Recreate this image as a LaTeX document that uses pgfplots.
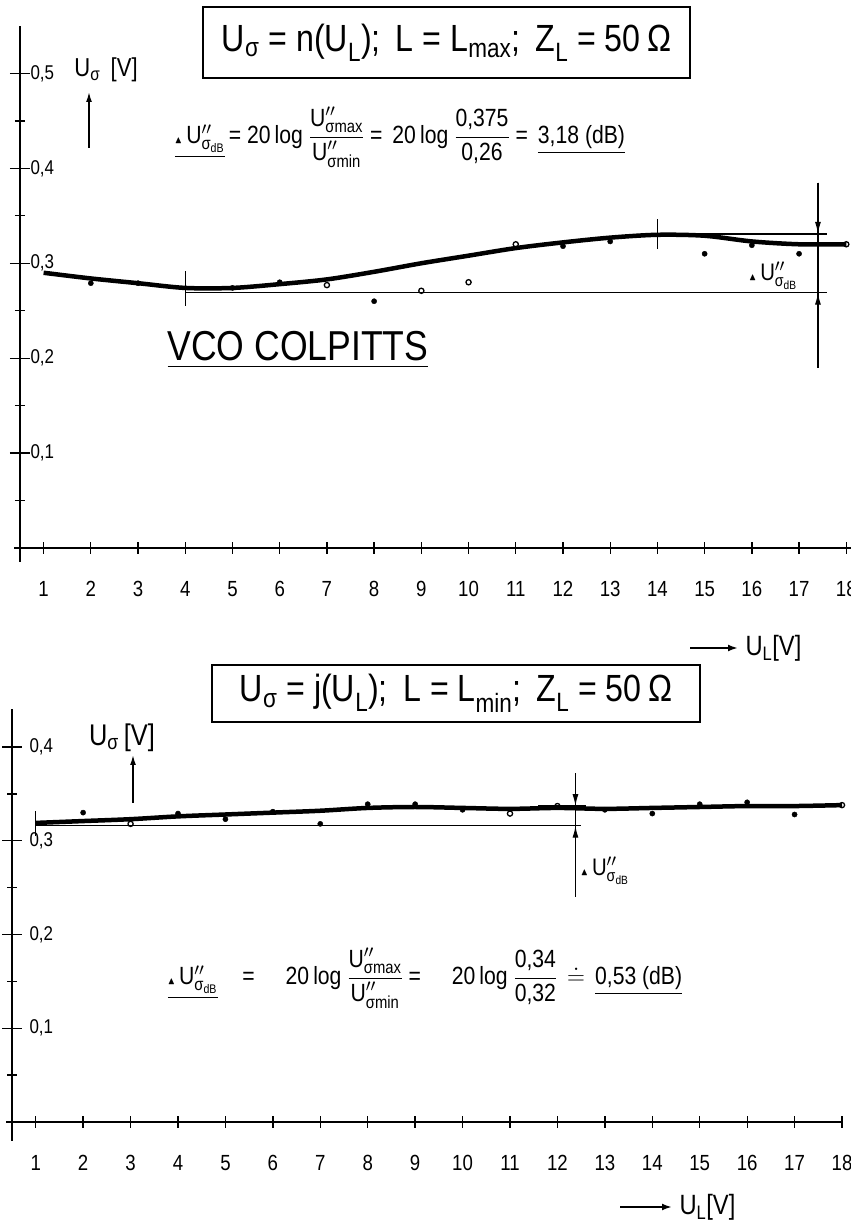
\documentclass[border=0pt]{standalone}
\usepackage{pgfplots}
\pgfplotsset{compat=1.18}
\usepackage{amsmath,amssymb}
\usetikzlibrary{arrows.meta}
\usepackage{fontspec}
\setmainfont{Liberation Sans}[FakeStretch=0.85]
\newcommand{\fs}[1]{\fontsize{#1}{#1}\selectfont}
\newcommand{\dU}{{\fs{10}$\blacktriangle$}\,U}

\pgfplotsset{
  ucurve/.style={
    scale only axis, clip=false, anchor=south west,
    axis x line*=bottom, axis y line*=left,
    axis line style={-, line width=1.6bp},
    xmin=0.5, ymin=0,
    tick align=center,
    major tick length=20bp, minor tick length=10bp,
    every tick/.style={black, line width=1.3bp},
    xtick=\empty,
    extra x ticks={1,...,18},
    extra x tick style={major tick length=12bp},
    xticklabel style={font=\fs{22}, yshift=-24bp},
    yticklabel style={anchor=west, font=\fs{20}},
    /pgf/number format/.cd, fixed, precision=1, use comma, assume math mode=true,
  },
  curve/.style={line width=4.5bp, smooth, tension=0.5},
  dots/.style={only marks, mark=*, mark size=2.6bp},
  rings/.style={only marks, mark=o, mark size=2.6bp, mark options={line width=1.3bp}},
}
\tikzset{thinline/.style={line width=1.5bp},
  arr/.style={line width=1.3bp, -{Latex[length=12bp,width=6bp]}}}

\begin{document}
\begin{tikzpicture}
\useasboundingbox (0,0) rectangle (851bp,1224bp);

% upper chart: L = Lmax
\begin{axis}[ucurve, at={(20bp,676bp)}, width=831bp, height=522bp,
  xmax=18.1, ymax=0.55,
  yticklabel style={xshift=17bp},
  ytick={0.1,0.2,0.3,0.4,0.5}, minor ytick={0.05,0.15,0.25,0.35,0.45}]
\addplot[curve] coordinates {
  (1,0.290) (2,0.284) (3,0.279) (4,0.274) (5,0.274) (6,0.278) (7,0.283)
  (8,0.291) (9,0.300) (10,0.308) (11,0.316) (12,0.322) (13,0.327)
  (14,0.330) (15,0.329) (16,0.323) (17,0.320) (18,0.320)};
\addplot[dots] coordinates {
  (2,0.279) (3,0.279) (5,0.274) (6,0.280) (8,0.260) (12,0.318)
  (13,0.323) (15,0.310) (16,0.319) (17,0.310)};
\addplot[rings] coordinates {
  (7,0.277) (9,0.271) (10,0.280) (11,0.320) (18,0.320)};
\draw[thinline] (axis cs:4,0.269) -- (axis cs:17.6,0.269);
\draw[thinline] (axis cs:14,0.331) -- (axis cs:17.6,0.331);
\draw[thinline] (axis cs:4,0.255) -- (axis cs:4,0.292);
\draw[thinline] (axis cs:14,0.315) -- (axis cs:14,0.347);
\draw[line width=1.3bp] (axis cs:17.4,0.385) -- (axis cs:17.4,0.19);
\draw[arr] (axis cs:17.4,0.385) -- (axis cs:17.4,0.331);
\draw[arr] (axis cs:17.4,0.19) -- (axis cs:17.4,0.269);
\draw[line width=1.6bp] (axis cs:0.38,0) -- (axis cs:0.5,0) -- (axis cs:0.5,-0.015);
\node[font=\fs{24}] at (axis cs:16.45,0.287) {\dU$''_{\text{σ}_{\text{dB}}}$};
\end{axis}

% lower chart: L = Lmin
\begin{axis}[ucurve, at={(12bp,102bp)}, width=830bp, height=412.5bp,
  xmax=18, ymax=0.44,
  yticklabel style={xshift=24bp},
  ytick={0.1,0.2,0.3,0.4}, minor ytick={0.05,0.15,0.25,0.35}]
\addplot[curve] coordinates {
  (1,0.319) (2,0.321) (3,0.323) (4,0.326) (5,0.328) (6,0.330) (7,0.332)
  (8,0.335) (9,0.336) (10,0.335) (11,0.334) (12,0.335) (13,0.334)
  (14,0.335) (15,0.336) (16,0.337) (17,0.337) (18,0.338)};
\addplot[dots] coordinates {
  (2,0.330) (4,0.329) (5,0.323) (6,0.331) (7,0.318) (8,0.339) (9,0.339)
  (10,0.333) (13,0.333) (14,0.329) (15,0.339) (16,0.341) (17,0.328)};
\addplot[rings] coordinates {
  (3,0.318) (11,0.329) (12,0.337) (18,0.338)};
\draw[thinline] (axis cs:1,0.316) -- (axis cs:12.5,0.316);
\draw[thinline] (axis cs:11.6,0.337) -- (axis cs:12.6,0.337);
\draw[thinline] (axis cs:1,0.305) -- (axis cs:1,0.332);
\draw[line width=1.3bp] (axis cs:12.38,0.372) -- (axis cs:12.38,0.24);
\draw[arr] (axis cs:12.38,0.372) -- (axis cs:12.38,0.337);
\draw[arr] (axis cs:12.38,0.245) -- (axis cs:12.38,0.316);
\draw[line width=1.6bp] (axis cs:0.38,0) -- (axis cs:0.5,0) -- (axis cs:0.5,-0.02);
\node[font=\fs{24}, anchor=west] at (axis cs:12.42,0.268) {\dU$''_{\text{σ}_{\text{dB}}}$};
\end{axis}

% texts in picture coordinates (y measured from the top)
\begin{scope}[x=1bp, y=1bp, shift={(0,1224)}, yscale=-1]
\node[draw, line width=1.6bp, minimum width=487bp, minimum height=71bp, font=\fs{38}] at (446.5,42.5)
  {U$_{\text{σ}}$ = n(U$_{\text{L}}$); \,L = L$_{\text{max}}$; \,Z$_{\text{L}}$ = 50\,Ω};
\node[font=\fs{26}] at (106,70) {U$_{\text{σ}}$\, [V]};
\draw[line width=1.5bp, -{Latex[length=10bp,width=6bp]}] (89,148) -- (89,92);
\node[font=\fs{25}] at (400,137) {\underline{\dU$''_{\text{σ}_{\text{dB}}}$}\,= 20\,log
  $\dfrac{\text{U}''_{\text{σmax}}}{\text{U}''_{\text{σmin}}}$ = \,20\,log
  $\dfrac{\text{0,375}}{\text{0,26}}$ = \,\underline{3,18 (dB)}};
\node[font=\fs{42}] at (298,350) {\underline{VCO COLPITTS}};
\draw[line width=2bp, -{Latex[length=10bp,width=7bp]}] (690,648) -- (738,648);
\node[font=\fs{28}, anchor=west] at (742,648) {U$_{\text{L}}$[V]};

\node[draw, line width=1.6bp, minimum width=488bp, minimum height=57bp, font=\fs{38}] at (456,693.5)
  {U$_{\text{σ}}$ = j(U$_{\text{L}}$); \,L = L$_{\text{min}}$; \,Z$_{\text{L}}$ = 50\,Ω};
\node[font=\fs{30}] at (122,738) {U$_{\text{σ}}$\,[V]};
\draw[line width=1.5bp, -{Latex[length=10bp,width=6bp]}] (133,803) -- (133,755);
\node[font=\fs{25}] at (425,978) {\underline{\dU$''_{\text{σ}_{\text{dB}}}$}\quad = \quad 20\,log
  $\dfrac{\text{U}''_{\text{σmax}}}{\text{U}''_{\text{σmin}}}$ = \quad 20\,log
  $\dfrac{\text{0,34}}{\text{0,32}}$ \,$\doteq$\, \underline{0,53 (dB)}};
\draw[line width=2bp, -{Latex[length=10bp,width=7bp]}] (620,1207) -- (672,1207);
\node[font=\fs{28}, anchor=west] at (676,1207) {U$_{\text{L}}$[V]};
\end{scope}
\end{tikzpicture}
\end{document}
